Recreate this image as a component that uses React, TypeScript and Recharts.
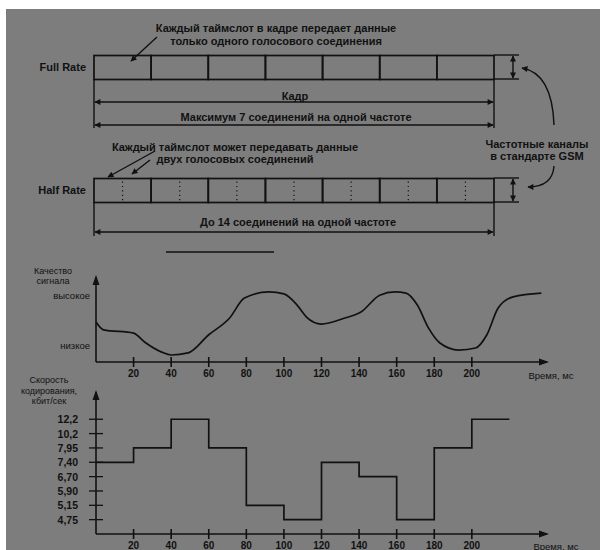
import React from 'react';
import { BarChart, Bar, XAxis, YAxis, LineChart, Line } from 'recharts';

// frame rows and the seven timeslots of a GSM frame
const frameRows = ['Full Rate', 'Half Rate'];
const slotKeys = ['s1', 's2', 's3', 's4', 's5', 's6', 's7'];
const slotShare = [1, 1, 1, 1, 1, 1, 1];

// signal quality curve (time in ms, level in arbitrary units)
const signalTime = [0, 4, 20, 26, 35, 40, 49, 60, 71, 79, 92, 100, 107, 112, 120, 132, 141, 151, 159, 165, 171, 177, 183, 193, 202, 208, 214, 222, 237];
const signalLevel = [4.85, 3.9, 3.5, 2.4, 1.2, 0.85, 1.1, 3.3, 5.3, 7.75, 8.5, 8.25, 6.9, 5.45, 4.6, 5.3, 6.05, 8.1, 8.5, 8.35, 6.9, 4.1, 2.3, 1.45, 1.7, 3.3, 6.55, 7.9, 8.35];
const qualityTicks = [2, 8];
const qualityLabels = ['низкое', 'высокое'];

// coding rate, one value per 20 ms step
const timeTicks = [20, 40, 60, 80, 100, 120, 140, 160, 180, 200];
const rateLabels = ['4,75', '5,15', '5,90', '6,70', '7,40', '7,95', '10,2', '12,2'];
const rateTicks = [1, 2, 3, 4, 5, 6, 7, 8];
const rateStart = [0, 20, 40, 60, 80, 100, 120, 140, 160, 180, 200, 220];
const rateValue = ['7,40', '7,95', '12,2', '7,95', '5,15', '4,75', '7,40', '6,70', '4,75', '7,95', '12,2', '12,2'];

const frameData = frameRows.map((name) => {
  const row: any = { name };
  slotKeys.forEach((k, i) => (row[k] = slotShare[i]));
  return row;
});
const signalData = signalTime.map((t, i) => ({ t, v: signalLevel[i] }));
const rateData = rateStart.map((t, i) => ({ t, level: rateLabels.indexOf(rateValue[i]) + 1 }));

const INK = '#111';
const FONT = '"Liberation Sans", Arial, sans-serif';

const SlotShape = (props: any) => {
  const { x, y, width, height, payload } = props;
  const cx = x + width / 2;
  return (
    <g>
      <rect x={x} y={y} width={width} height={height} fill="none" stroke={INK} strokeWidth={1.7} />
      {payload && payload.name === 'Half Rate' && (
        <line x1={cx} x2={cx} y1={y + 3} y2={y + height - 2} stroke={INK} strokeWidth={1.2} strokeDasharray="1.2 3.2" />
      )}
    </g>
  );
};

const TimeTick = (props: any) => {
  const { x, y, payload } = props;
  return (
    <g>
      <line x1={x} x2={x} y1={y - 5} y2={y + 5} stroke={INK} strokeWidth={1.6} />
      <text x={x} y={y + 15} textAnchor="middle" fontSize={10} fontWeight="bold" fill={INK} fontFamily={FONT}>
        {payload.value}
      </text>
    </g>
  );
};

const RateTick = (props: any) => {
  const { x, y, payload } = props;
  return (
    <g>
      <line x1={x - 7} x2={x + 7} y1={y} y2={y} stroke={INK} strokeWidth={1.3} />
      <text x={x - 18} y={y + 4} textAnchor="end" fontSize={10.5} fontWeight="bold" fill={INK} fontFamily={FONT}>
        {rateLabels[payload.value - 1]}
      </text>
    </g>
  );
};

const T = (p: { x: number; y: number; children: React.ReactNode; anchor?: string; size?: number; bold?: boolean }) => (
  <text
    x={p.x}
    y={p.y}
    textAnchor={(p.anchor || 'middle') as any}
    dominantBaseline="central"
    fontSize={p.size || 11}
    fontWeight={p.bold === false ? 'normal' : 'bold'}
    fill={INK}
    fontFamily={FONT}
  >
    {p.children}
  </text>
);

export default function App() {
  const abs: React.CSSProperties = { position: 'absolute', left: 0 };
  return (
    <div style={{ position: 'absolute', left: 0, top: 0, width: 600, height: 550, background: '#fff', overflow: 'hidden' }}>
      <div style={{ position: 'absolute', left: 6, top: 9, width: 594, height: 541, background: '#7d7d7d' }} />

      <div style={{ ...abs, top: 0 }}>
        <BarChart width={600} height={260} layout="vertical" data={frameData} barSize={24} margin={{ top: 5.5, right: 106, bottom: 8.5, left: 0 }}>
          <XAxis type="number" domain={[0, 7]} hide />
          <YAxis
            type="category"
            dataKey="name"
            width={94}
            axisLine={false}
            tickLine={false}
            tickSize={0}
            tickMargin={8}
            tick={{ fill: INK, fontSize: 11, fontWeight: 'bold', fontFamily: FONT }}
          />
          {slotKeys.map((k) => (
            <Bar key={k} dataKey={k} stackId="frame" shape={<SlotShape />} isAnimationActive={false} />
          ))}
        </BarChart>
      </div>

      <div style={{ ...abs, top: 250 }}>
        <LineChart width={600} height={150} data={signalData} margin={{ top: 27, right: 53, bottom: 0, left: 0 }}>
          <XAxis
            type="number"
            dataKey="t"
            domain={[0, 240]}
            ticks={timeTicks}
            interval={0}
            height={38}
            axisLine={{ stroke: INK, strokeWidth: 1.6 }}
            tickLine={false}
            tickSize={0}
            tickMargin={0}
            tick={<TimeTick />}
          />
          <YAxis
            type="number"
            domain={[0, 10.3]}
            ticks={qualityTicks}
            interval={0}
            width={96}
            axisLine={{ stroke: INK, strokeWidth: 1.6 }}
            tickLine={false}
            tickSize={0}
            tickMargin={6}
            tickFormatter={(v: number) => qualityLabels[qualityTicks.indexOf(v)]}
            tick={{ fill: INK, fontSize: 9.5, fontFamily: FONT }}
          />
          <Line type="monotone" dataKey="v" stroke={INK} strokeWidth={1.7} dot={false} isAnimationActive={false} />
        </LineChart>
      </div>

      <div style={{ ...abs, top: 375 }}>
        <LineChart width={600} height={175} data={rateData} margin={{ top: 17, right: 53, bottom: 0, left: 0 }}>
          <XAxis
            type="number"
            dataKey="t"
            domain={[0, 240]}
            ticks={timeTicks}
            interval={0}
            height={16}
            axisLine={{ stroke: INK, strokeWidth: 1.6 }}
            tickLine={false}
            tickSize={0}
            tickMargin={0}
            tick={<TimeTick />}
          />
          <YAxis
            type="number"
            domain={[0, 9.9]}
            ticks={rateTicks}
            interval={0}
            width={96}
            axisLine={{ stroke: INK, strokeWidth: 1.6 }}
            tickLine={false}
            tickSize={0}
            tickMargin={0}
            tick={<RateTick />}
          />
          <Line type="stepAfter" dataKey="level" stroke={INK} strokeWidth={1.7} dot={false} isAnimationActive={false} />
        </LineChart>
      </div>

      <svg width={600} height={550} style={{ position: 'absolute', left: 0, top: 0, pointerEvents: 'none' }}>
        <defs>
          <marker id="ah" viewBox="0 0 10 10" refX="9" refY="5" markerWidth="8" markerHeight="6" markerUnits="userSpaceOnUse" orient="auto-start-reverse">
            <path d="M0,0 L10,5 L0,10 z" fill={INK} />
          </marker>
        </defs>
        <g stroke={INK} strokeWidth={1.4} fill="none">
          {/* top annotation */}
          <line x1={157} y1={37} x2={131} y2={61} markerEnd="url(#ah)" />
          {/* full rate dimensions */}
          <line x1={494} y1={55} x2={519} y2={55} />
          <line x1={494} y1={79} x2={519} y2={79} />
          <line x1={513} y1={56} x2={513} y2={78} markerStart="url(#ah)" markerEnd="url(#ah)" />
          <line x1={94} y1={79} x2={94} y2={128} />
          <line x1={494} y1={79} x2={494} y2={128} />
          <line x1={95} y1={102} x2={493} y2={102} markerStart="url(#ah)" markerEnd="url(#ah)" />
          <line x1={95} y1={125} x2={493} y2={125} markerStart="url(#ah)" markerEnd="url(#ah)" />
          {/* GSM channel arrows */}
          <path d="M554,125 C553,96 545,72 522,68" markerEnd="url(#ah)" />
          <path d="M554,166 C553,180 545,187 528,187" markerEnd="url(#ah)" />
          {/* half rate annotation */}
          <line x1={155} y1={151} x2={108} y2={177} markerEnd="url(#ah)" />
          <line x1={150} y1={160} x2={132} y2={174} markerEnd="url(#ah)" />
          {/* half rate dimensions */}
          <line x1={494} y1={178} x2={519} y2={178} />
          <line x1={494} y1={202} x2={519} y2={202} />
          <line x1={513} y1={179} x2={513} y2={201} markerStart="url(#ah)" markerEnd="url(#ah)" />
          <line x1={94} y1={202} x2={94} y2={236} />
          <line x1={494} y1={202} x2={494} y2={236} />
          <line x1={95} y1={232} x2={493} y2={232} markerStart="url(#ah)" markerEnd="url(#ah)" />
          {/* separator */}
          <line x1={166} y1={252} x2={274} y2={252} strokeWidth={1.6} />
        </g>
        {/* axis arrow heads */}
        <g fill={INK}>
          <path d="M96,275 L92.5,285 L99.5,285 z" />
          <path d="M549,362 L539,358.5 L539,365.5 z" />
          <path d="M96,390 L92.5,400 L99.5,400 z" />
          <path d="M549,534 L539,530.5 L539,537.5 z" />
        </g>

        <T x={276} y={28}>Каждый таймслот в кадре передает данные</T>
        <T x={276} y={41}>только одного голосового соединения</T>
        <T x={295} y={96}>Кадр</T>
        <T x={296} y={117}>Максимум 7 соединений на одной частоте</T>
        <T x={235} y={147}>Каждый таймслот может передавать данные</T>
        <T x={235} y={159}>двух голосовых соединений</T>
        <T x={537} y={144}>Частотные каналы</T>
        <T x={537} y={156}>в стандарте GSM</T>
        <T x={298} y={222}>До 14 соединений на одной частоте</T>

        <T x={53} y={271} size={9} bold={false}>Качество</T>
        <T x={53} y={281} size={9} bold={false}>сигнала</T>
        <T x={551} y={375} size={9.5} bold={false}>Время, мс</T>

        <T x={49} y={380} size={9} bold={false}>Скорость</T>
        <T x={49} y={391} size={9} bold={false}>кодирования,</T>
        <T x={49} y={401} size={9} bold={false}>кбит/сек</T>
        <T x={556} y={546} size={9.5} bold={false}>Время, мс</T>
      </svg>
    </div>
  );
}
